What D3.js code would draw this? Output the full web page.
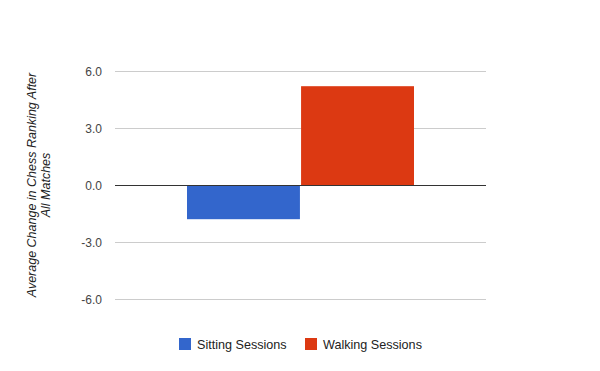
<!DOCTYPE html>
<html>
<head>
<meta charset="utf-8">
<script src="https://cdn.jsdelivr.net/npm/d3@7"></script>
<style>
  body { margin: 0; background: #fff; }
  svg { font-family: "Liberation Sans", Arial, sans-serif; }
</style>
</head>
<body>
<div id="chart"></div>
<script>
// data
var series = ["Sitting Sessions", "Walking Sessions"];
var values = [-1.8, 5.2];
var colors = ["#3366cc", "#dc3912"];
var yTicks = [-6, -3, 0, 3, 6];
var yTitle = ["Average Change in Chess Ranking After", "All Matches"];

var width = 600, height = 371;
var plotLeft = 115, plotRight = 486, plotTop = 71, plotBottom = 299;

var svg = d3.select("#chart").append("svg")
    .attr("width", width)
    .attr("height", height);

var y = d3.scaleLinear().domain([-6, 6]).range([plotBottom, plotTop]);

// one category, two series side by side
var x = d3.scaleBand().domain(series).range([187, 414]).paddingInner(0.01);

var fmt = d3.formatLocale({decimal: ".", thousands: ",", grouping: [3], currency: ["", ""], minus: "-"}).format(".1f");

// grid lines
svg.append("g").selectAll("line")
    .data(yTicks.filter(function(d){ return d !== 0; }))
    .enter().append("line")
    .attr("x1", plotLeft).attr("x2", plotRight)
    .attr("y1", function(d){ return Math.round(y(d)) + 0.5; })
    .attr("y2", function(d){ return Math.round(y(d)) + 0.5; })
    .attr("stroke", "#cccccc");

// tick labels
svg.append("g").selectAll("text")
    .data(yTicks)
    .enter().append("text")
    .attr("x", 102)
    .attr("y", function(d){ return y(d) + 4.5; })
    .attr("text-anchor", "end")
    .attr("font-size", 12)
    .attr("fill", "#444")
    .text(function(d){ return fmt(d); });

// bars
svg.append("g").selectAll("rect")
    .data(values)
    .enter().append("rect")
    .attr("x", function(d, i){ return x(series[i]); })
    .attr("width", x.bandwidth())
    .attr("y", function(d){ return Math.min(y(d), y(0)); })
    .attr("height", function(d){ return Math.abs(y(d) - y(0)); })
    .attr("fill", function(d, i){ return colors[i]; });

// baseline
svg.append("line")
    .attr("x1", plotLeft).attr("x2", plotRight)
    .attr("y1", Math.round(y(0)) + 0.5).attr("y2", Math.round(y(0)) + 0.5)
    .attr("stroke", "#333");

// y axis title
var title = svg.append("text")
    .attr("transform", "translate(39," + y(0) + ") rotate(-90)")
    .attr("text-anchor", "middle")
    .attr("font-size", 12.5)
    .attr("font-style", "italic")
    .attr("fill", "#222");
title.selectAll("tspan")
    .data(yTitle)
    .enter().append("tspan")
    .attr("x", 0)
    .attr("dy", function(d, i){ return i === 0 ? -3 : 14; })
    .text(function(d){ return d; });

// legend
var legendX = [179, 305];
var legend = svg.append("g").selectAll("g")
    .data(series)
    .enter().append("g")
    .attr("transform", function(d, i){ return "translate(" + legendX[i] + ",338)"; });
legend.append("rect")
    .attr("width", 12).attr("height", 12)
    .attr("fill", function(d, i){ return colors[i]; });
legend.append("text")
    .attr("x", 18).attr("y", 11)
    .attr("font-size", 12.6)
    .attr("fill", "#222")
    .text(function(d){ return d; });
</script>
</body>
</html>
